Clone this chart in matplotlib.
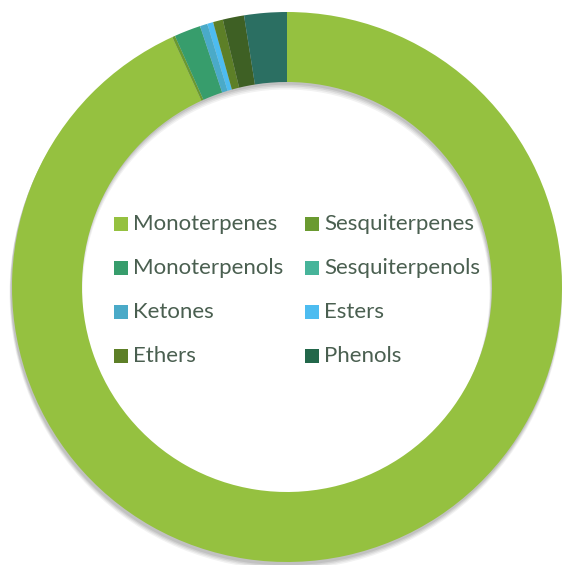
import matplotlib
matplotlib.use("Agg")
import matplotlib.pyplot as plt
from matplotlib.patches import Wedge, Rectangle

categories = ["Monoterpenes", "Sesquiterpenes", "Monoterpenols", "Sesquiterpenols",
              "Ketones", "Esters", "Ethers", "", "Phenols"]
values = [93.15, 0.17, 1.56, 0.0, 0.44, 0.35, 0.58, 1.25, 2.5]
slice_colors = ["#95c140", "#6a9a30", "#379d6c", "#47b49a", "#4aaac8",
                "#4dbcf0", "#5d7f27", "#3e6024", "#2b6f62"]
legend_labels = ["Monoterpenes", "Sesquiterpenes", "Monoterpenols", "Sesquiterpenols",
                 "Ketones", "Esters", "Ethers", "Phenols"]
legend_colors = ["#95c140", "#6a9a30", "#379d6c", "#47b49a", "#4aaac8",
                 "#4dbcf0", "#5d7f27", "#22674a"]

W, H = 562, 565
fig = plt.figure(figsize=(W / 100, H / 100), dpi=100)
ax = fig.add_axes([0, 0, 1, 1])
cx, cy, R = 287, H - 287, 275
width = 70

# soft shadow
for i, a in enumerate([0.05, 0.06, 0.07, 0.08]):
    off = 6 - i
    ax.add_patch(Wedge((cx - 1, cy - off), R + 1.5 - i * 0.4, 0, 360,
                       width=width + 3 - i, facecolor="#000000", alpha=a,
                       edgecolor="none", zorder=1))

wedges, _ = ax.pie(values, startangle=90, counterclock=False, colors=slice_colors,
                   radius=R, center=(cx, cy),
                   wedgeprops=dict(width=width, edgecolor="none", linewidth=0))
for w in wedges:
    w.set_zorder(2)

ax.set_xlim(0, W)
ax.set_ylim(0, H)
ax.set_aspect("equal")
ax.axis("off")

# legend (2 columns x 4 rows)
col_x = [114, 305]
row_y = [224, 268, 312, 356]
for i, (lab, col) in enumerate(zip(legend_labels, legend_colors)):
    r, c = divmod(i, 2)
    x = col_x[c]
    y = H - row_y[r]
    ax.add_patch(Rectangle((x, y - 7), 14, 14, facecolor=col, edgecolor="none", zorder=3))
    ax.text(x + 19, y, lab, fontsize=16, family="Lato", color="#4a5f50",
            va="center", ha="left", zorder=3)

fig.savefig("out.png", dpi=100)
